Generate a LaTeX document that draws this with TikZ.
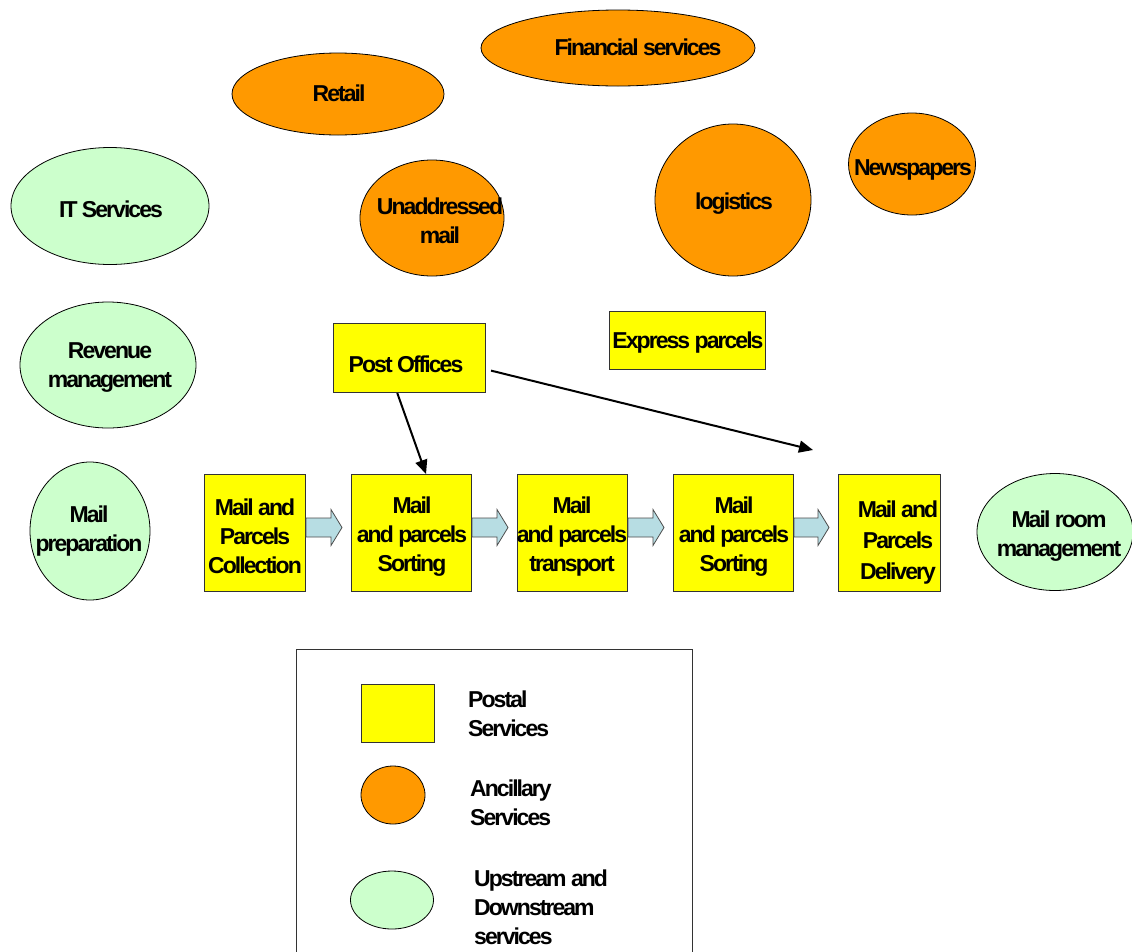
\documentclass[tikz,border=0pt]{standalone}
\usepackage{fontspec}
\setmainfont{Liberation Sans}[LetterSpace=-8.5]
\usetikzlibrary{arrows.meta,calc,shapes.geometric}
\definecolor{postal}{HTML}{FFFF00}
\definecolor{ancil}{HTML}{FF9900}
\definecolor{updown}{HTML}{CCFFCC}
\definecolor{flowblue}{HTML}{B7DDE3}
\newcommand\flowArrowBetween[2]{%
  \filldraw[flowarrow] let \p1=($(#1.east)+(0,-5.5)$), \p2=($(#2.west)+(-9,-5.5)$) in
   (\x1,\y1+9.5pt) -- (\x2-11pt,\y1+9.5pt) -- (\x2-11pt,\y1+18pt) -- (\x2,\y1)
   -- (\x2-11pt,\y1-18pt) -- (\x2-11pt,\y1-9.5pt) -- (\x1,\y1-9.5pt) -- cycle;}
\begin{document}
\begin{tikzpicture}[x=1pt,y=-1pt,
  lbl/.style={font=\fontsize{23}{29}\selectfont\bfseries, align=center, inner sep=0pt, yshift=-2.5pt},
  leglbl/.style={font=\fontsize{23}{29}\selectfont\bfseries, align=left, anchor=west, inner sep=0pt, yshift=-1pt},
  postalbox/.style={draw=black!80, fill=postal, line width=1pt, rectangle, inner sep=0pt, anchor=north west},
  ancilell/.style={draw=black, fill=ancil, line width=0.8pt, ellipse, inner sep=0pt},
  updownell/.style={draw=black, fill=updown, line width=0.8pt, ellipse, inner sep=0pt},
  flowarrow/.style={draw=black!70, fill=flowblue, line width=0.8pt},
  linkarrow/.style={draw=black, line width=2pt, -{Triangle[length=14pt,width=12pt]}},
  legendbox/.style={draw=black!80, line width=0.8pt, rectangle, inner sep=0pt, anchor=north west}
]
\useasboundingbox (0,0) rectangle (1132,951);
\clip (0,0) rectangle (1132,951);
\fill[white] (0,0) rectangle (1132,951);

% Ancillary services
\node[ancilell, minimum width=274pt, minimum height=76pt] (fin) at (618,48) {};
\node[lbl] (fin-t) at (638,45) {Financial services};
\node[ancilell, minimum width=212pt, minimum height=82pt] (retail) at (338,94) {};
\node[lbl] (retail-t) at (339,91) {Retail};
\node[ancilell, minimum width=144pt, minimum height=116pt] (unadd) at (432,218) {};
\node[lbl] (unadd-t) at (440,218) {Unaddressed\\mail};
\node[ancilell, minimum width=156pt, minimum height=152pt] (logi) at (733,200) {};
\node[lbl] (logi-t) at (734,201) {logistics};
\node[ancilell, minimum width=127pt, minimum height=102pt] (news) at (912,164) {};
\node[lbl] (news-t) at (913,167) {Newspapers};

% Upstream / downstream
\node[updownell, minimum width=198pt, minimum height=117pt] (its) at (110,206) {};
\node[lbl] (its-t) at (111,207) {IT Services};
\node[updownell, minimum width=176pt, minimum height=126pt] (rev) at (108,365) {};
\node[lbl] (rev-t) at (110,365) {Revenue\\management};
\node[updownell, minimum width=120pt, minimum height=138pt] (prep) at (90,531) {};
\node[lbl] (prep-t) at (89,529) {Mail\\preparation};
\node[updownell, minimum width=156pt, minimum height=117pt] (mroom) at (1055,532) {};
\node[lbl] (mroom-t) at (1059,534) {Mail room\\management};

% Postal chain
\node[postalbox, minimum width=101pt, minimum height=117pt] (coll) at (204,474) {};
\node[postalbox, minimum width=120pt, minimum height=117pt] (sort1) at (351,474) {};
\node[postalbox, minimum width=110pt, minimum height=117pt] (trans) at (517,474) {};
\node[postalbox, minimum width=120pt, minimum height=117pt] (sort2) at (673,474) {};
\node[postalbox, minimum width=102pt, minimum height=117pt] (deliv) at (838,474) {};
\flowArrowBetween{coll}{sort1}
\flowArrowBetween{sort1}{trans}
\flowArrowBetween{trans}{sort2}
\flowArrowBetween{sort2}{deliv}
\node[lbl] (coll-t) at (255,534) {Mail and\\Parcels\\Collection};
\node[lbl] (sort1-t) at (412,534) {Mail\\and parcels\\Sorting};
\node[lbl] (trans-t) at (572,534) {Mail\\and parcels\\transport};
\node[lbl] (sort2-t) at (734,534) {Mail\\and parcels\\Sorting};
\node[lbl, font=\fontsize{23}{31}\selectfont\bfseries] (deliv-t) at (898,540) {Mail and\\Parcels\\Delivery};

% Post offices and express parcels
\node[postalbox, minimum width=152pt, minimum height=69pt] (po) at (333,323) {};
\node[lbl] (po-t) at (406,362) {Post Offices};
\node[postalbox, minimum width=156pt, minimum height=58pt] (exp) at (609,311) {};
\node[lbl] (exp-t) at (688,340) {Express parcels};

\coordinate (deliv-in) at (813,450);
\draw[linkarrow] ($(po.south west)!0.42!(po.south east)$) -- ($(sort1.north west)!0.62!(sort1.north east)$);
\draw[linkarrow] ($($(po.north east)!0.68!(po.south east)$)+(5,0)$) -- (deliv-in);

% Legend
\node[legendbox, minimum width=396pt, minimum height=320pt] (legend) at (296,649) {};
\node[postalbox, minimum width=73pt, minimum height=58pt] (leg-p) at (361,684) {};
\node[leglbl] (leg-p-t) at (468,713) {Postal\\Services};
\node[ancilell, minimum width=64pt, minimum height=58pt] (leg-a) at (393,795) {};
\node[leglbl] (leg-a-t) at (470,802) {Ancillary\\Services};
\node[updownell, minimum width=83pt, minimum height=58pt] (leg-u) at (392,900) {};
\node[leglbl] (leg-u-t) at (474,906) {Upstream and\\Downstream\\services};
\end{tikzpicture}
\end{document}
